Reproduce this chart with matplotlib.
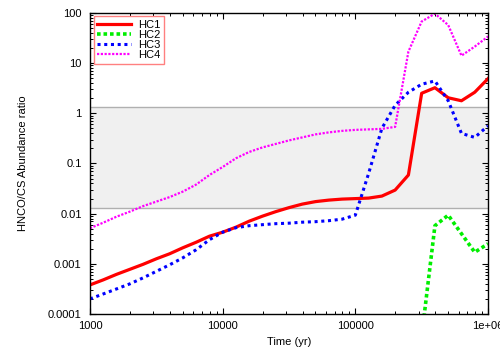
import matplotlib
matplotlib.use("Agg")
import matplotlib.pyplot as plt
from matplotlib.ticker import LogLocator, FixedLocator, FixedFormatter, NullFormatter

# Time grid (yr), 0.1-dex steps
time_yr = [1000, 1259, 1585, 1995, 2512, 3162, 3981, 5012, 6310, 7943,
           10000, 12589, 15849, 19953, 25119, 31623, 39811, 50119, 63096, 79433,
           100000, 125893, 158489, 199526, 251189, 316228, 398107, 501187, 630957, 794328,
           1000000]

hc1 = [3.80e-4, 4.79e-4, 6.17e-4, 7.76e-4, 9.77e-4, 1.259e-3, 1.585e-3, 2.089e-3, 2.69e-3, 3.55e-3,
       4.27e-3, 5.37e-3, 7.08e-3, 8.91e-3, 0.01096, 0.01318, 0.01549, 0.01738, 0.01862, 0.01950,
       0.01995, 0.02042, 0.02239, 0.02951, 0.0589, 2.51, 3.24, 2.04, 1.78, 2.63,
       4.90]

hc3 = [2.0e-4, 2.51e-4, 3.16e-4, 3.98e-4, 5.25e-4, 7.08e-4, 9.55e-4, 1.318e-3, 1.905e-3, 3.02e-3,
       4.27e-3, 5.25e-3, 5.75e-3, 6.03e-3, 6.31e-3, 6.46e-3, 6.76e-3, 6.92e-3, 7.24e-3, 7.76e-3,
       9.33e-3, 0.0631, 0.501, 1.445, 2.63, 3.80, 4.42, 1.78, 0.398, 0.331,
       0.562]

hc4 = [0.00513, 0.00661, 0.00871, 0.01096, 0.01413, 0.01738, 0.02138, 0.02754, 0.0380, 0.0589,
       0.0851, 0.127, 0.1698, 0.2089, 0.2455, 0.2884, 0.3311, 0.3802, 0.4169, 0.4467,
       0.4677, 0.4786, 0.4898, 0.537, 17.0, 67.6, 97.0, 57.5, 14.1, 21.4,
       33.9]

hc2_time = [316228, 398107, 501187, 630957, 794328, 1000000]
hc2 = [3.6e-5, 5.75e-3, 9.33e-3, 3.98e-3, 1.70e-3, 2.51e-3]

band_low, band_high = 0.0129, 1.32

x_ticks = [1000, 10000, 100000, 1000000]
x_labels = ["1000", "10000", "100000", "1e+06"]
y_ticks = [1e-4, 1e-3, 1e-2, 1e-1, 1, 10, 100]
y_labels = ["0.0001", "0.001", "0.01", "0.1", "1", "10", "100"]

plt.rcParams['font.family'] = ['Liberation Sans', 'DejaVu Sans']
fig = plt.figure(figsize=(5, 3.5), dpi=100)
ax = fig.add_axes([0.18, 0.1029, 0.796, 0.86])

ax.axhspan(band_low, band_high, facecolor='#f0f0f0', edgecolor='none', zorder=0)
ax.axhline(band_low, color='#b0b0b0', lw=1.0, zorder=1)
ax.axhline(band_high, color='#b0b0b0', lw=1.0, zorder=1)

ax.plot(time_yr, hc1, color='#ff0000', lw=2.3, ls='-', label='HC1', zorder=3)
ax.plot(hc2_time, hc2, color='#00ee00', lw=2.6, ls=(0, (1, 0.8)), label='HC2', zorder=3)
ax.plot(time_yr, hc3, color='#0000ff', lw=2.2, ls=(0, (1, 1.2)), label='HC3', zorder=3)
ax.plot(time_yr, hc4, color='#ff00ff', lw=1.6, ls=(0, (1, 0.7)), label='HC4', zorder=3)

ax.set_xscale('log')
ax.set_yscale('log')
ax.set_xlim(1000, 1e6)
ax.set_ylim(1e-4, 100)

ax.xaxis.set_major_locator(FixedLocator(x_ticks))
ax.xaxis.set_major_formatter(FixedFormatter(x_labels))
ax.yaxis.set_major_locator(FixedLocator(y_ticks))
ax.yaxis.set_major_formatter(FixedFormatter(y_labels))
ax.xaxis.set_minor_locator(LogLocator(base=10, subs=range(2, 10), numticks=20))
ax.yaxis.set_minor_locator(LogLocator(base=10, subs=range(2, 10), numticks=20))
ax.xaxis.set_minor_formatter(NullFormatter())
ax.yaxis.set_minor_formatter(NullFormatter())

ax.tick_params(which='both', direction='in', top=True, right=True, labelsize=8, color='black')
ax.tick_params(which='major', length=4.5, width=0.8)
ax.tick_params(which='minor', length=2.5, width=0.7)
ax.tick_params(axis='x', which='major', pad=5)
ax.tick_params(axis='y', which='major', pad=6)

for s in ax.spines.values():
    s.set_color('black')
    s.set_linewidth(1.0)
    s.set_zorder(5)

ax.set_xlabel('Time (yr)', fontsize=8)
ax.set_ylabel('HNCO/CS Abundance ratio', fontsize=8)
ax.xaxis.set_label_coords(0.5, -0.078)
ax.yaxis.set_label_coords(-0.155, 0.5)

leg = ax.legend(loc='upper left', bbox_to_anchor=(0.009, 0.989), borderaxespad=0,
                fontsize=8, handlelength=3.0, handletextpad=0.65, labelspacing=0.0,
                borderpad=0.35, fancybox=False, framealpha=1, edgecolor='#ff8080')
leg.get_frame().set_linewidth(1.0)

fig.savefig('out.png', dpi=100)
